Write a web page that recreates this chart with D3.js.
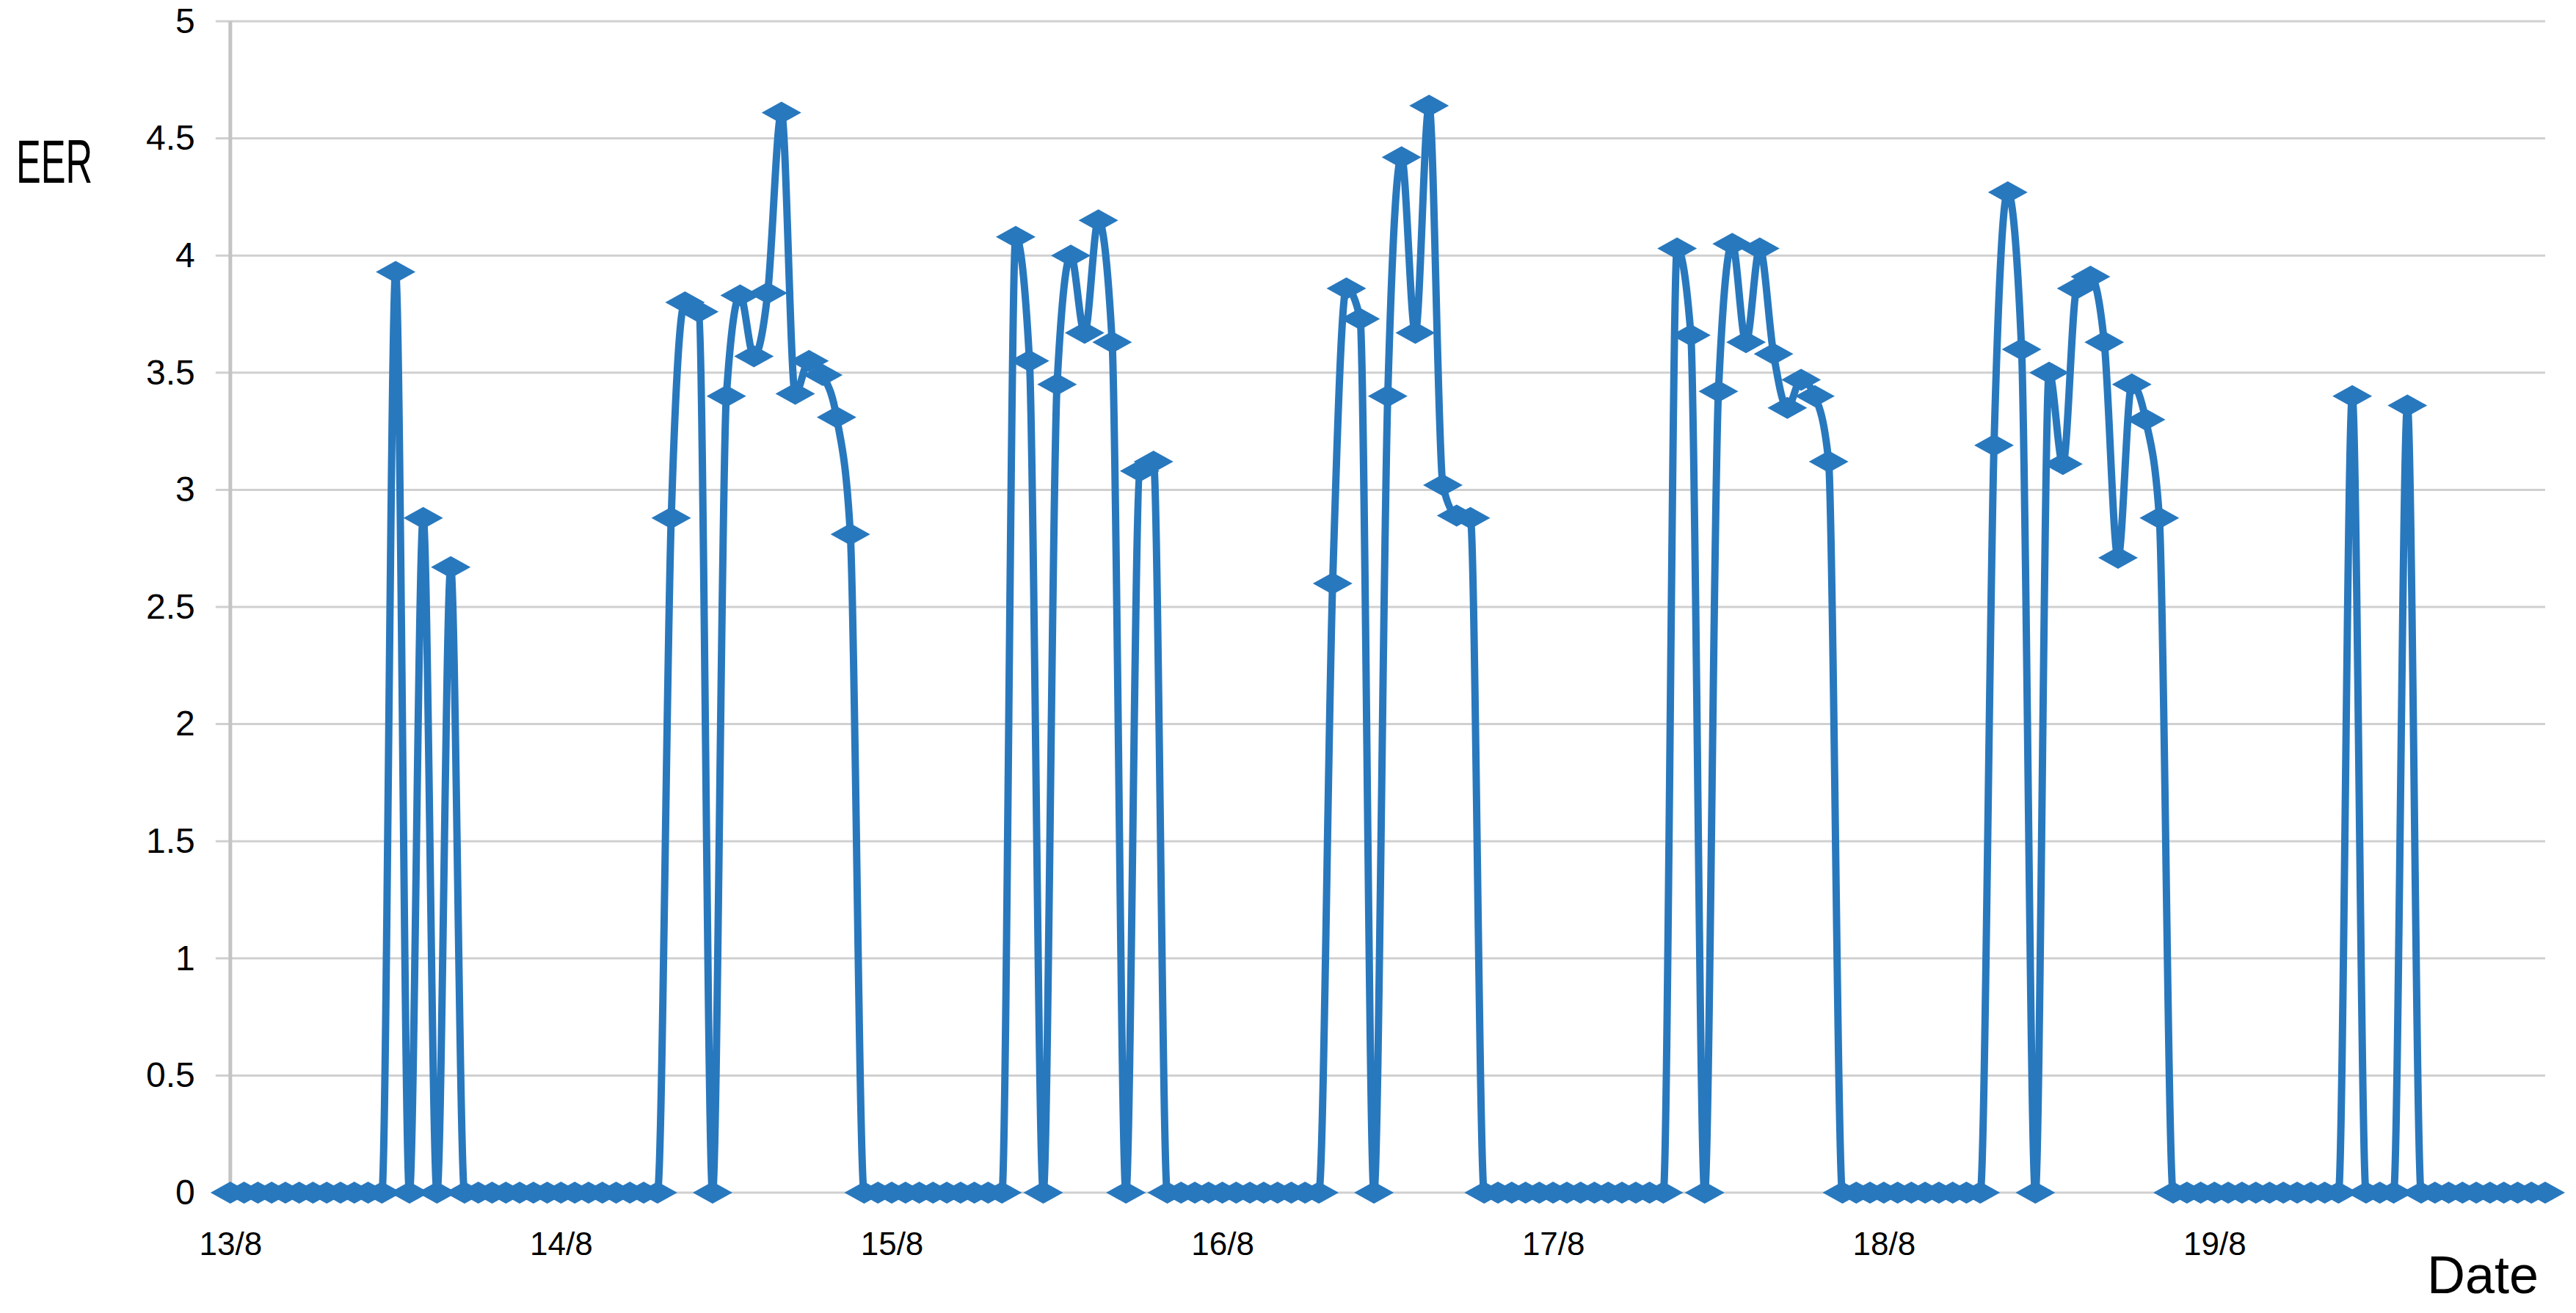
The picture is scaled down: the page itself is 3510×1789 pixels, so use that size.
<!DOCTYPE html>
<html>
<head>
<meta charset="utf-8">
<script src="https://cdn.jsdelivr.net/npm/d3@7"></script>
<style>
  html, body { margin: 0; padding: 0; background: #ffffff; }
  svg { display: block; }
  text { font-family: "Liberation Sans", Arial, Helvetica, sans-serif; fill: #000; }
</style>
</head>
<body>
<script>
// ---------- DATA (hourly EER, 13/8 00:00 .. 20/8 00:00) ----------
const dayLabels = ["13/8", "14/8", "15/8", "16/8", "17/8", "18/8", "19/8"];
const dayTickIndex = [0, 24, 48, 72, 96, 120, 144];
const yTicks = [0, 0.5, 1, 1.5, 2, 2.5, 3, 3.5, 4, 4.5, 5];
const yTickLabels = ["0", "0.5", "1", "1.5", "2", "2.5", "3", "3.5", "4", "4.5", "5"];
const day13 = [0,0,0,0,0,0,0,0,0,0,0,0, 3.93,0,2.88,0,2.67,0,0,0,0,0,0,0];
const day14 = [0,0,0,0,0,0,0,0, 2.88,3.80,3.76,0,3.40,3.83,3.57,3.84,4.61,3.41,3.55,3.49,3.31,2.81, 0,0];
const day15 = [0,0,0,0,0,0,0,0,0, 4.08,3.55,0,3.45,4.00,3.67,4.15,3.63,0,3.08,3.12, 0,0,0,0];
const day16 = [0,0,0,0,0,0,0,0, 2.60,3.86,3.73,0,3.40,4.42,3.67,4.64,3.02,2.89,2.88, 0,0,0,0,0];
const day17 = [0,0,0,0,0,0,0,0,0, 4.03,3.66,0,3.42,4.05,3.63,4.03,3.58,3.35,3.47,3.40,3.12, 0,0,0];
const day18 = [0,0,0,0,0,0,0,0, 3.19,4.27,3.60,0,3.50,3.11,3.86,3.91,3.63,2.71,3.45,3.30,2.88, 0,0,0];
const day19 = [0,0,0,0,0,0,0,0,0,0, 3.40,0,0,0,3.36, 0,0,0,0,0,0,0,0,0];
const day20 = [0];
const eer = [].concat(day13, day14, day15, day16, day17, day18, day19, day20);
const yTitle = "EER";
const xTitle = "Date";

// ---------- LAYOUT ----------
const W = 3510, H = 1789;
const plot = { left: 313.8, right: 3468, top: 29, bottom: 1625 };
const lineColor = "#2878BE";

const svg = d3.select("body").append("svg")
  .attr("width", W).attr("height", H)
  .attr("viewBox", `0 0 ${W} ${H}`);
svg.append("rect").attr("width", W).attr("height", H).attr("fill", "#fff");

const x = d3.scaleLinear().domain([0, eer.length - 1]).range([plot.left, plot.right]);
const y = d3.scaleLinear().domain([0, 5]).range([plot.bottom, plot.top]);

// gridlines
svg.append("g").selectAll("line").data(yTicks).join("line")
  .attr("x1", plot.left - 20).attr("x2", plot.right)
  .attr("y1", d => y(d)).attr("y2", d => y(d))
  .attr("stroke", "#d0d0d0").attr("stroke-width", 3);

// y axis line
svg.append("line")
  .attr("x1", plot.left).attr("x2", plot.left)
  .attr("y1", plot.top).attr("y2", plot.bottom)
  .attr("stroke", "#c4c4c4").attr("stroke-width", 5);

// y axis labels
const yAxis = d3.axisLeft(y).tickValues(yTicks)
  .tickFormat((d, i) => yTickLabels[i]).tickSize(0).tickPadding(48);
const gy = svg.append("g").attr("transform", `translate(${plot.left},0)`).call(yAxis);
gy.select(".domain").remove();
gy.selectAll("text").style("font-size", "48px")
  .style("font-family", "'Liberation Sans', Arial, sans-serif").attr("fill", "#000");

// x axis labels
const xAxis = d3.axisBottom(x).tickValues(dayTickIndex)
  .tickFormat((d, i) => dayLabels[i]).tickSize(0).tickPadding(54);
const gx = svg.append("g").attr("transform", `translate(0,${plot.bottom})`).call(xAxis);
gx.select(".domain").remove();
gx.selectAll("text").style("font-size", "44px")
  .style("font-family", "'Liberation Sans', Arial, sans-serif").attr("fill", "#000");

// line
const line = d3.line()
  .x((d, i) => x(i))
  .y(d => y(d))
  .curve(d3.curveMonotoneX);
svg.append("path").datum(eer)
  .attr("d", line)
  .attr("fill", "none")
  .attr("stroke", lineColor)
  .attr("stroke-width", 10)
  .attr("stroke-linejoin", "round");

// diamond markers
const mw = 27, mh = 15;
svg.append("g").selectAll("path").data(eer).join("path")
  .attr("d", (d, i) => {
    const cx = x(i), cy = y(d);
    return `M${cx - mw},${cy}L${cx},${cy - mh}L${cx + mw},${cy}L${cx},${cy + mh}Z`;
  })
  .attr("fill", lineColor);

// titles
svg.append("text").attr("x", 22).attr("y", 249)
  .style("font-size", "84px")
  .attr("textLength", 104).attr("lengthAdjust", "spacingAndGlyphs")
  .text(yTitle);
svg.append("text").attr("x", 3459).attr("y", 1762).attr("text-anchor", "end")
  .style("font-size", "72px").text(xTitle);
</script>
</body>
</html>
